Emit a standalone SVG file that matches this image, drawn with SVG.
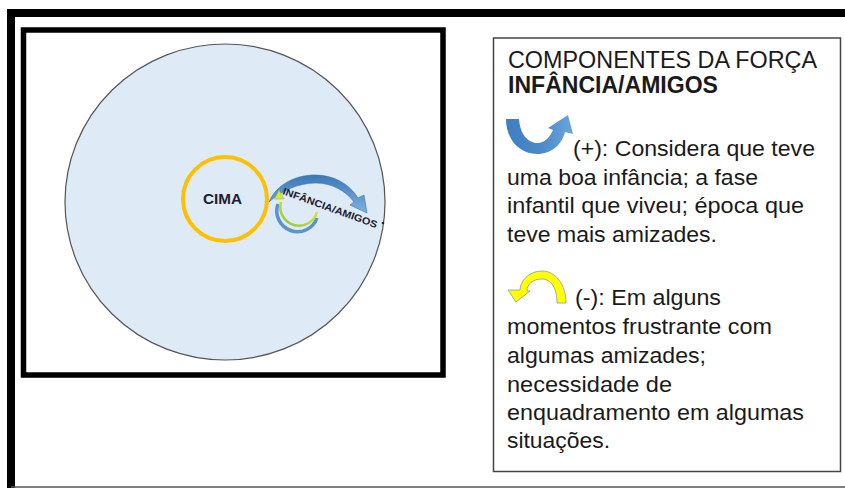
<svg xmlns="http://www.w3.org/2000/svg" width="845" height="488" viewBox="0 0 845 488">
<defs>
<style>
.body{font-family:"Liberation Sans",Arial,sans-serif;font-size:22px;fill:#1a1a1a}
.title{font-family:"Liberation Sans",Arial,sans-serif;font-size:23px;fill:#1a1a1a}
.lbl{font-family:"Liberation Sans",Arial,sans-serif;font-weight:bold;fill:#1c1c30}
</style>
<linearGradient id="gBlue" x1="0" y1="0" x2="1" y2="0">
<stop offset="0" stop-color="#3f7fc0"/>
<stop offset="0.5" stop-color="#4a88c8"/>
<stop offset="1" stop-color="#6aa5dc"/>
</linearGradient>
<linearGradient id="gBlue2" x1="0" y1="0" x2="0" y2="1">
<stop offset="0" stop-color="#3a78b8"/>
<stop offset="1" stop-color="#7fb2e0"/>
</linearGradient>
<linearGradient id="gYG" x1="0" y1="1" x2="1" y2="0">
<stop offset="0" stop-color="#8cc63f"/>
<stop offset="1" stop-color="#e8ef2a"/>
</linearGradient>
</defs>

<g id="frame">
<path d="M11,488 V13 H845" fill="none" stroke="#000" stroke-width="8"/>
<line x1="11" y1="487" x2="845" y2="487" stroke="#555" stroke-width="1.5"/>
</g>

<g id="diagram-box">
<rect x="23.5" y="30" width="419.5" height="345" fill="#fff" stroke="#000" stroke-width="5.5"/>
</g>

<g id="outer-circle">
<ellipse cx="225" cy="202" rx="160" ry="158" fill="#deeaf6" stroke="#555" stroke-width="1.2"/>
</g>

<g id="cima">
<circle cx="225" cy="199" r="42" fill="none" stroke="#ffc000" stroke-width="4"/>
<text class="lbl" x="222.5" y="204" font-size="14" text-anchor="middle" textLength="39" lengthAdjust="spacingAndGlyphs">CIMA</text>
</g>

<g id="connectors">
<path d="M269,202 C276,185 295,175 315,175 C335,175 350,185 358,198 L364,195 L367,213 L350,205 L354,202 C346,191 332,183 316,183 C298,183 281,191 269,202 Z" fill="url(#gBlue2)" stroke="#3a6fa8" stroke-width="0.6"/>
<path d="M317,218 A20,20 0 0 1 278,204" fill="none" stroke="#5b93cf" stroke-width="3.5"/>
<path d="M317,212 A17,17 0 0 1 281,202" fill="none" stroke="url(#gYG)" stroke-width="2.5"/>
<path d="M279,190 L274.5,199 L284,199 Z" fill="#d8e830" stroke="#8cb03a" stroke-width="0.5"/>
</g>

<g id="force-label">
<text class="lbl" font-size="10" transform="translate(282,194) rotate(20)" textLength="100" lengthAdjust="spacingAndGlyphs">INFÂNCIA/AMIGOS</text>
<circle cx="383" cy="223" r="1.3" fill="#1c1c30"/>
</g>

<g id="legend">
<rect x="493.5" y="38" width="347" height="433.5" fill="#fff" stroke="#444" stroke-width="1.5"/>
<text class="title" x="508" y="68" textLength="309" lengthAdjust="spacingAndGlyphs">COMPONENTES DA FORÇA</text>
<text class="title" x="508" y="93" font-weight="bold" textLength="210" lengthAdjust="spacingAndGlyphs">INFÂNCIA/AMIGOS</text>

<path d="M506,119 L519,119 C520,134 528,143 537,143 C545,143 550,137 553,130 L548,128 L568,115 L573,134 L565,132 C562,144 552,154 537,154 C520,154 506,140 506,119 Z" fill="url(#gBlue)"/>
<text class="body" x="573" y="156" textLength="242" lengthAdjust="spacingAndGlyphs">(+): Considera que teve</text>
<text class="body" x="507" y="185" textLength="251" lengthAdjust="spacingAndGlyphs">uma boa infância; a fase</text>
<text class="body" x="507" y="213" textLength="297" lengthAdjust="spacingAndGlyphs">infantil que viveu; época que</text>
<text class="body" x="507" y="242" textLength="210" lengthAdjust="spacingAndGlyphs">teve mais amizades.</text>

<path d="M566,303 C566,285 556,271 542,271 C528,271 520,282 520,290 L508,290 L516,302 L530,291 L527,291 C527,284 533,279 542,279 C551,279 557,288 557,303 Z" fill="#ffff00" stroke="#8a9a9a" stroke-width="0.8"/>
<text class="body" x="575" y="305" textLength="146" lengthAdjust="spacingAndGlyphs">(-): Em alguns</text>
<text class="body" x="507" y="334" textLength="265" lengthAdjust="spacingAndGlyphs">momentos frustrante com</text>
<text class="body" x="507" y="363" textLength="199" lengthAdjust="spacingAndGlyphs">algumas amizades;</text>
<text class="body" x="507" y="392" textLength="165" lengthAdjust="spacingAndGlyphs">necessidade de</text>
<text class="body" x="507" y="420" textLength="297" lengthAdjust="spacingAndGlyphs">enquadramento em algumas</text>
<text class="body" x="507" y="448" textLength="103" lengthAdjust="spacingAndGlyphs">situações.</text>
</g>
</svg>
